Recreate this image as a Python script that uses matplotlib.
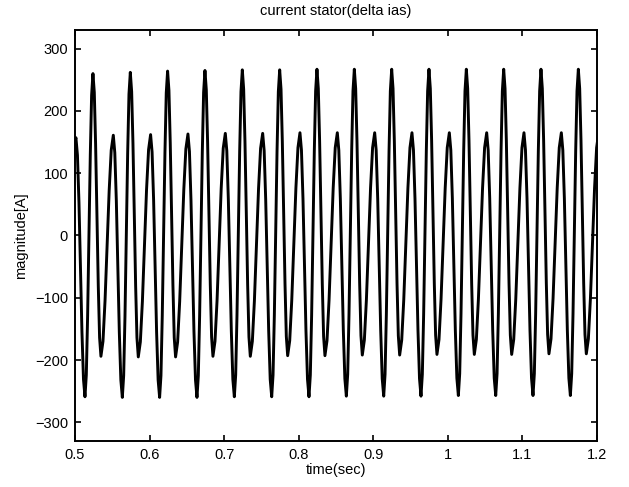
import numpy as np
import matplotlib
matplotlib.use("Agg")
import matplotlib.pyplot as plt

plt.rcParams['font.family'] = ['Liberation Sans', 'DejaVu Sans']

# start time of each cycle (lower positive peak), seconds
cycle_start = [0.5013, 0.5514, 0.6014, 0.6515, 0.7016, 0.7517, 0.8017,
               0.8518, 0.9019, 0.9519, 1.0020, 1.0521, 1.1021, 1.1522]
# sample times inside one cycle, milliseconds
offset_ms = [0, 2.0, 4.05, 6.05, 8.05, 10.1,
             12.1, 13.9, 15.65, 17.45, 19.25, 21.0,
             22.8, 24.6, 26.35, 28.15, 29.95, 31.7,
             33.5, 36.25, 39.0, 41.8, 44.55, 47.3]
# current values read for every cycle [A]
cycle_values = [
    [157, 129, 53, -51, -155, -231, -259, -224, -129, 0, 130, 225, 260, 230, 147, 33, -81, -164, -194, -170, -105, -17, 72, 137],
    [161, 133, 56, -50, -155, -232, -260, -225, -130, 1, 132, 227, 262, 231, 148, 34, -81, -164, -195, -171, -106, -17, 73, 138],
    [162, 134, 57, -49, -155, -232, -260, -225, -129, 2, 133, 229, 264, 233, 149, 35, -80, -164, -195, -171, -106, -16, 74, 139],
    [163, 135, 57, -49, -154, -232, -260, -225, -129, 3, 134, 230, 265, 234, 150, 36, -79, -163, -194, -170, -105, -15, 75, 140],
    [164, 136, 58, -48, -153, -231, -259, -224, -128, 4, 135, 231, 266, 235, 151, 36, -79, -163, -194, -170, -105, -15, 75, 140],
    [164, 136, 58, -48, -153, -231, -259, -224, -128, 4, 135, 231, 266, 235, 151, 37, -78, -162, -193, -169, -104, -14, 76, 141],
    [165, 137, 59, -47, -153, -231, -259, -224, -128, 4, 136, 232, 267, 236, 152, 37, -78, -162, -193, -169, -104, -14, 76, 141],
    [165, 137, 59, -47, -152, -230, -258, -223, -127, 5, 136, 232, 267, 236, 152, 38, -77, -161, -192, -168, -103, -14, 76, 141],
    [165, 137, 59, -47, -152, -230, -258, -223, -127, 5, 136, 232, 267, 236, 152, 38, -77, -161, -192, -168, -103, -14, 76, 141],
    [165, 137, 59, -47, -152, -230, -258, -223, -127, 5, 136, 232, 267, 236, 153, 38, -77, -160, -191, -167, -102, -13, 76, 141],
    [165, 137, 60, -46, -152, -229, -257, -222, -126, 5, 136, 232, 267, 236, 153, 38, -77, -160, -191, -167, -102, -13, 76, 141],
    [165, 137, 60, -46, -152, -229, -257, -222, -126, 5, 136, 232, 267, 236, 153, 38, -77, -160, -191, -167, -102, -13, 76, 141],
    [165, 137, 60, -46, -152, -229, -257, -222, -126, 5, 136, 232, 267, 236, 153, 39, -76, -159, -190, -166, -101, -13, 76, 141],
    [165, 137, 60, -46, -152, -229, -257, -222, -126, 5, 136, 232, 267, 236, 153, 39, -76, -159, -190, -166, -101, -13, 76, 141],
]
first_point = (0.5, 152)
last_point = (1.2023, 165)

# assemble the trace
t = [first_point[0]]
ias = [first_point[1]]
for start, vals in zip(cycle_start, cycle_values):
    t.extend(start + np.array(offset_ms) / 1000.0)
    ias.extend(vals)
t.append(last_point[0])
ias.append(last_point[1])

fig = plt.figure(figsize=(6.29, 4.87), dpi=100)
ax = fig.add_axes([0.1192, 0.0945, 0.8299, 0.8439])

ax.plot(t, ias, color='black', linewidth=2.1,
        solid_joinstyle='round', solid_capstyle='round')

ax.set_xlim(0.5, 1.2)
ax.set_ylim(-330, 330)
ax.set_xticks([0.5, 0.6, 0.7, 0.8, 0.9, 1.0, 1.1, 1.2])
ax.set_xticklabels(['0.5', '0.6', '0.7', '0.8', '0.9', '1', '1.1', '1.2'])
ax.set_yticks([-300, -200, -100, 0, 100, 200, 300])

ax.tick_params(direction='in', length=4, width=1.2, top=True, right=True,
               labelsize=10.5, pad=5)
for sp in ax.spines.values():
    sp.set_linewidth(1.4)

ax.set_title('current stator(delta ias)', fontsize=10.5, pad=11)
ax.set_xlabel('time(sec)', fontsize=10.5, labelpad=1)
ax.set_ylabel('magnitude[A]', fontsize=10.5, labelpad=5)

fig.savefig('out.png', dpi=100)
